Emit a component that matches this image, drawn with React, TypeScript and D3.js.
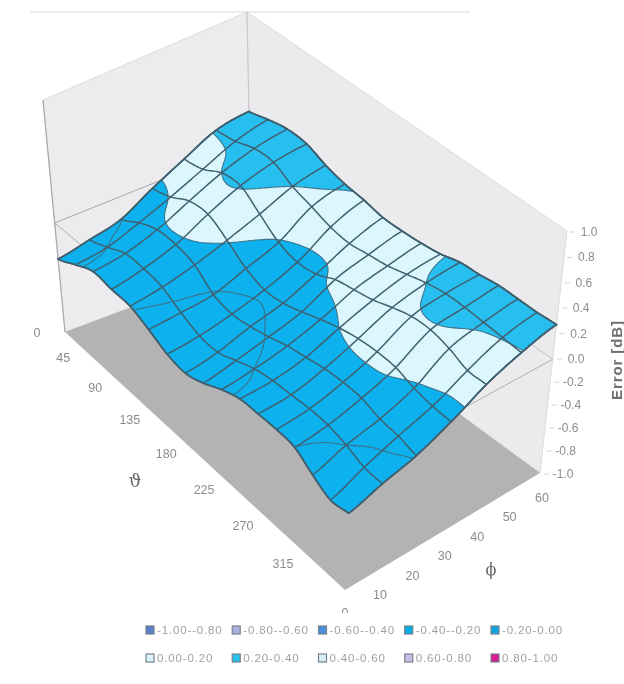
import React from "react";
import * as d3 from "d3";

// Error [dB] per theta step (0..360 by 22.5) for each phi row
const phi0 = [-.33,-.24,-.16,-.18,-.19,-.26,-.34,-.37,-.32,-.24,-.185,-.18,-.18,-.20,-.30,-.38,-.36];
const phi10 = [-.27,-.20,-.12,-.12,-.15,-.24,-.31,-.32,-.26,-.20,-.17,-.16,-.15,-.16,-.20,-.26,-.27];
const phi20 = [-.20,-.10,-.03,-.03,-.08,-.21,-.25,-.23,-.19,-.14,-.11,-.08,-.07,-.08,-.13,-.15,-.19];
const phi30 = [-.04,.01,.09,.10,.01,-.11,-.17,-.16,-.11,-.05,.00,.03,.04,.03,-.02,-.05,-.06];
const phi40 = [.09,.12,.20,.21,.10,-.01,-.06,-.04,.03,.06,.09,.14,.18,.185,.15,.09,.09];
const phi50 = [.21,.23,.28,.28,.20,.15,.10,.08,.10,.12,.16,.20,.225,.225,.215,.205,.195];
const phi60 = [.25,.29,.32,.31,.25,.21,.19,.16,.16,.17,.19,.23,.24,.26,.26,.26,.27];
const rows = [phi0, phi10, phi20, phi30, phi40, phi50, phi60];

const thetaTicks = [0, 45, 90, 135, 180, 225, 270, 315];
const phiTicks = [10, 20, 30, 40, 50, 60];
const zTicks = [1, 0.8, 0.6, 0.4, 0.2, 0, -0.2, -0.4, -0.6, -0.8, -1];
const bandThresholds = [-0.2, 0, 0.2, 0.4];
const bandColors = ["#0bb1ee", "#0bb1ee", "#dcf6fd", "#25bff0", "#dcf4fb"];
const legendRow1 = ["-1.00--0.80", "-0.80--0.60", "-0.60--0.40", "-0.40--0.20", "-0.20-0.00"];
const legendRow2 = ["0.00-0.20", "0.20-0.40", "0.40-0.60", "0.60-0.80", "0.80-1.00"];
const legendColors1 = ["#5a80c8", "#a9b2de", "#4a90d8", "#06aee8", "#0ea4e2"];
const legendColors2 = ["#d9f4fb", "#2cc0ee", "#d9eff7", "#c8c0ec", "#d81b90"];

type Pt = [number, number];
const floorC = { a: [65, 332], b: [345, 590], c: [540, 473], d: [252, 262] };
const topC = { a: [43, 100], b: [357, 335], c: [567, 231], d: [247, 12] };
const tOf = d3.scaleLinear().domain([-1, 0, 1]).range([0, 0.47, 1]);

function bil(q: any, u: number, v: number): Pt {
  const f = (i: number) =>
    q.a[i] * (1 - u) * (1 - v) + q.b[i] * u * (1 - v) + q.c[i] * u * v + q.d[i] * (1 - u) * v;
  return [f(0), f(1)];
}
function project(u: number, v: number, z: number): Pt {
  const F = bil(floorC, u, v);
  const T = bil(topC, u, v);
  const t = tOf(z);
  return [F[0] + (T[0] - F[0]) * t, F[1] + (T[1] - F[1]) * t];
}
function cat(p0: number, p1: number, p2: number, p3: number, s: number) {
  return 0.5 * (2 * p1 + (p2 - p0) * s + (2 * p0 - 5 * p1 + 4 * p2 - p3) * s * s + (3 * p1 - p0 - 3 * p2 + p3) * s * s * s);
}
const nK = rows[0].length;
const nJ = rows.length;
function surf(u: number, v: number) {
  const fk = Math.min(Math.max(u, 0), 1) * (nK - 1);
  const fj = Math.min(Math.max(v, 0), 1) * (nJ - 1);
  const k = Math.min(Math.floor(fk), nK - 2);
  const j = Math.min(Math.floor(fj), nJ - 2);
  const val = (jj: number, kk: number) =>
    rows[Math.max(0, Math.min(nJ - 1, jj))][Math.max(0, Math.min(nK - 1, kk))];
  const col = [-1, 0, 1, 2].map((d) =>
    cat(val(j + d, k - 1), val(j + d, k), val(j + d, k + 1), val(j + d, k + 2), fk - k)
  );
  return cat(col[0], col[1], col[2], col[3], fj - j);
}
const sp = (u: number, v: number) => project(u, v, surf(u, v));
const line = d3.line<Pt>();
const closed = (pts: Pt[]) => (line(pts) || "") + "Z";

const STEP = 10;
const nx = (nK - 1) * STEP + 1;
const ny = (nJ - 1) * STEP + 1;
const fine: number[] = [];
for (let y = 0; y < ny; y++) for (let x = 0; x < nx; x++) fine.push(surf(x / (nx - 1), y / (ny - 1)));
const bands = d3.contours().size([nx, ny]).smooth(true).thresholds(bandThresholds)(fine);
const contourPath = (mp: any) =>
  mp.coordinates
    .map((poly: number[][][]) =>
      poly
        .map((ring) =>
          closed(
            ring.map(([x, y]) => {
              const u = Math.min(1, Math.max(0, (x - 0.5) / (nx - 1)));
              const v = Math.min(1, Math.max(0, (y - 0.5) / (ny - 1)));
              return sp(u, v);
            })
          )
        )
        .join("")
    )
    .join("");

const us = d3.range(0, nx).map((i) => i / (nx - 1));
const vs = d3.range(0, ny).map((i) => i / (ny - 1));
const outline: Pt[] = [
  ...us.map((u) => sp(u, 0)),
  ...vs.map((v) => sp(1, v)),
  ...us.slice().reverse().map((u) => sp(u, 1)),
  ...vs.slice().reverse().map((v) => sp(0, v)),
];

const thetaX = d3.scalePow().exponent(1.15).domain([0, 315]).range([37, 283]);
const thetaY = d3.scalePow().exponent(1.15).domain([0, 315]).range([333, 564]);
const phiX = d3.scaleLinear().domain([10, 60]).range([380, 542]);
const phiY = d3.scaleLinear().domain([10, 60]).range([595, 498]);
const zY = d3.scaleLinear().domain([-1, 0, 1]).range([474, 359, 232]);
const zX = d3.scaleLinear().domain([-1, 1]).range([563, 589]);
const legendXs = d3.scaleLinear().domain([0, 4]).range([150, 495]);

const wallL = closed([project(0, 0, -1), project(0, 1, -1), project(0, 1, 1), project(0, 0, 1)]);
const wallB = closed([project(0, 1, -1), project(1, 1, -1), project(1, 1, 1), project(0, 1, 1)]);
const floorP = closed([project(0, 0, -1), project(1, 0, -1), project(1, 1, -1), project(0, 1, -1)]);
const seg = (a: Pt, b: Pt) => line([a, b]) || "";

const labelFont = "'Liberation Sans', Arial, sans-serif";
const grey = "#8c8c8c";

function Legend({ labels, colors, y }: { labels: string[]; colors: string[]; y: number }) {
  return (
    <g>
      {labels.map((l, i) => (
        <g key={l}>
          <rect x={legendXs(i) - 4} y={y - 4} width={8} height={8} fill={colors[i]} stroke="#77808c" strokeWidth={1.2} />
          <text x={legendXs(i) + 7} y={y + 4} fontSize={11.5} letterSpacing={0.85} fill="#a0a0a0" fontFamily={labelFont}>
            {l}
          </text>
        </g>
      ))}
    </g>
  );
}

export default function App() {
  return (
    <svg width={624} height={684} style={{ position: "absolute", left: 0, top: 0, background: "#fff" }}>
      <defs>
        <filter id="scan" x="-2%" y="-2%" width="104%" height="104%">
          <feGaussianBlur stdDeviation={0.7} />
        </filter>
      </defs>
      <g filter="url(#scan)">
        <line x1={30} y1={12} x2={470} y2={12} stroke="#e6e6e6" strokeWidth={1.5} />
        <path d={wallL} fill="#ececef" stroke="#dcdce0" strokeWidth={1} />
        <path d={wallB} fill="#ebebed" stroke="#dcdce0" strokeWidth={1} />
        <path d={floorP} fill="#b3b3b3" />
        <path d={seg(project(0, 0, 1), project(0, 0, -1))} stroke="#a8a8ad" strokeWidth={1.2} />
        <path d={seg(project(0, 1, 1), project(0, 1, 0))} stroke="#c8c8cc" strokeWidth={1} />
        <path d={seg(project(0, 0, 0), project(0, 1, 0))} stroke="#a8a8ac" strokeWidth={1} />
        <path d={seg(project(0, 1, 0), project(1, 1, 0))} stroke="#c4c4c8" strokeWidth={1} />
        <path d={seg(project(0, 0, 0), project(1, 0, 0))} stroke="#b0b0b4" strokeWidth={1} />
        <path d={seg(project(1, 1, 0), project(1, 0, 0))} stroke="#b0b0b4" strokeWidth={1} />

        <path d={closed(outline)} fill={bandColors[0]} />
        {bands.map((b: any, i: number) => (
          <path key={i} d={contourPath(b)} fill={bandColors[i + 1]} fillRule="evenodd" stroke="none" />
        ))}
        {bands.slice(0, 3).map((b: any, i: number) => (
          <path key={i} d={contourPath(b)} fill="none" stroke="#3f7288" strokeWidth={1.1} />
        ))}
        {rows.map((_, j) => (
          <path key={j} d={line(us.map((u) => sp(u, j / (nJ - 1)))) || ""} fill="none" stroke="#41606f" strokeWidth={1.5} />
        ))}
        {rows[0].map((_, k) => (
          <path key={k} d={line(vs.map((v) => sp(k / (nK - 1), v))) || ""} fill="none" stroke="#41606f" strokeWidth={1.5} />
        ))}
        <path d={closed(outline)} fill="none" stroke="#41606f" strokeWidth={1.7} />

        {zTicks.map((z) => (
          <g key={z}>
            <line x1={zX(z) - 14} x2={zX(z) - 19} y1={zY(z)} y2={zY(z)} stroke="#d4d4d4" />
            <text x={zX(z)} y={zY(z) + 4} textAnchor="middle" fontSize={12} fill={grey} fontFamily={labelFont}>
              {z.toFixed(1)}
            </text>
          </g>
        ))}
        {thetaTicks.map((t) => (
          <text key={t} x={thetaX(t)} y={thetaY(t) + 4} textAnchor="middle" fontSize={12.5} fill={grey} fontFamily={labelFont}>
            {t}
          </text>
        ))}
        {phiTicks.map((p) => (
          <text key={p} x={phiX(p)} y={phiY(p) + 4} textAnchor="middle" fontSize={12.5} fill={grey} fontFamily={labelFont}>
            {p}
          </text>
        ))}
        <text x={345} y={617} textAnchor="middle" fontSize={12.5} fill={grey} fontFamily={labelFont}>0</text>
        <rect x={335} y={613} width={20} height={8} fill="#fff" />
        <text x={135} y={487} textAnchor="middle" fontSize={18} fill="#666" fontFamily="'DejaVu Serif', serif">ϑ</text>
        <text x={491} y={575} textAnchor="middle" fontSize={16} fill="#666" fontFamily="'DejaVu Serif', serif">ϕ</text>
        <text
          transform="translate(622,360) rotate(-90)"
          textAnchor="middle"
          fontSize={15}
          letterSpacing={0.9}
          fill="#6e6e6e"
          fontWeight={700}
          fontFamily={labelFont}
        >
          Error [dB]
        </text>
        <Legend labels={legendRow1} colors={legendColors1} y={630} />
        <Legend labels={legendRow2} colors={legendColors2} y={658} />
      </g>
    </svg>
  );
}
